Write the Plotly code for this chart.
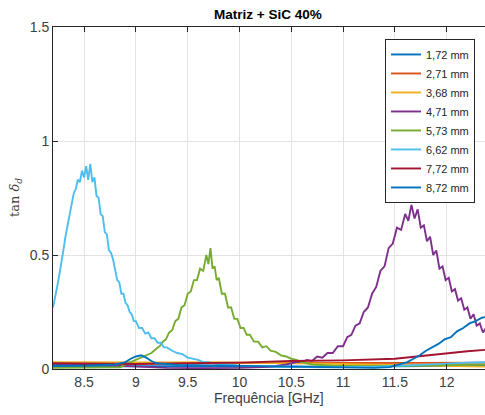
import plotly.graph_objects as go

names = ["1,72 mm", "2,71 mm", "3,68 mm", "4,71 mm", "5,73 mm", "6,62 mm", "7,72 mm", "8,72 mm"]
colors = ["#0072BD", "#D95319", "#EDB120", "#7E2F8E", "#77AC30", "#4DBEEE", "#A2142F", "#0072BD"]

f_172 = [8.2, 8.6, 9.0, 9.5, 10.0, 10.5, 11.0, 11.5, 12.0, 12.4]
v_172 = [0.012, 0.013, 0.014, 0.012, 0.011, 0.010, 0.010, 0.012, 0.014, 0.015]

f_271 = [8.2, 8.7, 9.2, 9.7, 10.2, 10.7, 11.2, 11.7, 12.2, 12.4]
v_271 = [0.025, 0.024, 0.026, 0.025, 0.026, 0.025, 0.026, 0.027, 0.028, 0.028]

f_368 = [8.2, 8.7, 9.2, 9.7, 10.2, 10.7, 11.2, 11.7, 12.2, 12.4]
v_368 = [0.030, 0.028, 0.029, 0.030, 0.028, 0.024, 0.020, 0.015, 0.011, 0.010]

f_471 = [8.2, 8.5, 8.8, 9.0, 9.3, 9.6, 10.0, 10.3, 10.45, 10.55, 10.6,
         10.65, 10.7, 10.75, 10.8, 10.85, 10.9, 10.95, 11.0, 11.04, 11.08, 11.12, 11.16,
         11.2, 11.24, 11.28, 11.32, 11.36, 11.4, 11.44, 11.48, 11.52, 11.56, 11.6, 11.63,
         11.66, 11.69, 11.72, 11.75, 11.78, 11.81, 11.84, 11.87, 11.9, 11.93, 11.96, 11.99,
         12.02, 12.05, 12.08, 12.11, 12.14, 12.17, 12.2, 12.23, 12.26, 12.29, 12.32, 12.35,
         12.38, 12.4]
v_471 = [0.02, 0.02, 0.015, 0.012, 0.005, 0.004, 0.005, 0.01, 0.02, 0.03, 0.03,
         0.04, 0.035, 0.055, 0.05, 0.07, 0.07, 0.10, 0.10, 0.14, 0.15, 0.19, 0.20,
         0.25, 0.27, 0.33, 0.36, 0.43, 0.45, 0.53, 0.55, 0.62, 0.61, 0.68, 0.65,
         0.72, 0.66, 0.70, 0.62, 0.63, 0.56, 0.58, 0.50, 0.52, 0.44, 0.45, 0.39,
         0.40, 0.34, 0.35, 0.30, 0.31, 0.26, 0.27, 0.22, 0.24, 0.19, 0.20, 0.16,
         0.18, 0.17]

f_573 = [8.2, 8.5, 8.85, 8.9, 8.95, 9.0, 9.05, 9.1, 9.15, 9.2, 9.23, 9.26, 9.29, 9.32,
         9.35, 9.38, 9.41, 9.44, 9.47, 9.5, 9.53, 9.56, 9.59, 9.62, 9.65, 9.68, 9.7,
         9.72, 9.74, 9.76, 9.78, 9.8, 9.83, 9.86, 9.89, 9.92, 9.95, 9.98, 10.01, 10.04,
         10.07, 10.1, 10.14, 10.18, 10.22, 10.26, 10.3, 10.35, 10.4, 10.45, 10.5, 10.55,
         10.6, 10.7, 10.9, 11.2, 11.6, 12.0, 12.4]
v_573 = [0.005, 0.005, 0.008, 0.02, 0.03, 0.04, 0.05, 0.06, 0.07, 0.09, 0.10, 0.12, 0.13, 0.16,
         0.17, 0.21, 0.22, 0.27, 0.28, 0.33, 0.34, 0.39, 0.39, 0.44, 0.43, 0.50, 0.46,
         0.53, 0.44, 0.45, 0.39, 0.40, 0.33, 0.33, 0.27, 0.27, 0.22, 0.22, 0.18, 0.18,
         0.15, 0.15, 0.12, 0.12, 0.095, 0.10, 0.08, 0.075, 0.06, 0.055, 0.045, 0.04,
         0.03, 0.02, 0.015, 0.012, 0.015, 0.018, 0.02]

f_662 = [8.2, 8.22, 8.24, 8.26, 8.28, 8.3, 8.32, 8.34, 8.36, 8.38, 8.4, 8.42, 8.44, 8.46,
         8.48, 8.5, 8.52, 8.54, 8.56, 8.58, 8.6, 8.62, 8.64, 8.66, 8.68, 8.7, 8.72, 8.74,
         8.76, 8.78, 8.8, 8.82, 8.84, 8.86, 8.88, 8.9, 8.92, 8.94, 8.96, 8.98, 9.0, 9.03,
         9.06, 9.09, 9.12, 9.15, 9.18, 9.21, 9.24, 9.27, 9.3, 9.35, 9.4, 9.45, 9.5, 9.55,
         9.6, 9.65, 9.7, 9.8, 9.9, 10.0, 10.2, 10.5, 10.8, 11.0, 11.3, 11.6, 11.9, 12.2, 12.4]
v_662 = [0.27, 0.31, 0.36, 0.41, 0.46, 0.52, 0.58, 0.63, 0.68, 0.72, 0.77, 0.79, 0.83, 0.82,
         0.87, 0.84, 0.89, 0.83, 0.90, 0.82, 0.84, 0.76, 0.75, 0.68, 0.67, 0.60, 0.59, 0.52,
         0.51, 0.48, 0.44, 0.39, 0.38, 0.33, 0.33, 0.29, 0.28, 0.25, 0.24, 0.21, 0.21, 0.18,
         0.18, 0.155, 0.16, 0.135, 0.135, 0.115, 0.115, 0.095, 0.095, 0.08, 0.07, 0.065, 0.05, 0.045,
         0.04, 0.03, 0.03, 0.02, 0.02, 0.015, 0.012, 0.01, 0.008, 0.008, 0.01, 0.015, 0.022, 0.028, 0.03]

f_772 = [8.2, 8.6, 9.0, 9.5, 10.0, 10.5, 11.0, 11.5, 11.8, 12.0, 12.2, 12.4]
v_772 = [0.025, 0.024, 0.022, 0.025, 0.028, 0.035, 0.038, 0.045, 0.06, 0.07, 0.078, 0.085]

f_872 = [8.2, 8.5, 8.8, 8.9, 8.95, 9.0, 9.05, 9.1, 9.15, 9.2, 9.4, 9.8, 10.2, 10.6, 11.0,
         11.3, 11.45, 11.55, 11.62, 11.68, 11.74, 11.8, 11.86, 11.92, 11.98, 12.04, 12.1,
         12.16, 12.22, 12.28, 12.34, 12.4]
v_872 = [0.015, 0.015, 0.02, 0.03, 0.045, 0.055, 0.06, 0.05, 0.035, 0.025, 0.018, 0.015, 0.012, 0.01, 0.006,
         0.005, 0.008, 0.02, 0.03, 0.045, 0.06, 0.08, 0.095, 0.11, 0.13, 0.14, 0.165,
         0.18, 0.20, 0.21, 0.225, 0.23]

series_f = [f_172, f_271, f_368, f_471, f_573, f_662, f_772, f_872]
series_v = [v_172, v_271, v_368, v_471, v_573, v_662, v_772, v_872]

x_ticks = [8.5, 9, 9.5, 10, 10.5, 11, 11.5, 12]
y_ticks = [0, 0.5, 1, 1.5]

fig = go.Figure()
for n, c, fx, vy in zip(names, colors, series_f, series_v):
    fig.add_trace(go.Scatter(x=fx, y=vy, mode="lines", name=n,
                             line=dict(color=c, width=1.9)))

axis_col = "#262626"
txt_col = "#404040"
fig.update_layout(
    width=485, height=415,
    margin=dict(l=53, r=0, t=27, b=46, autoexpand=False),
    paper_bgcolor="white", plot_bgcolor="white",
    font=dict(family="Liberation Sans, Arial, sans-serif", size=13, color=txt_col),
    showlegend=True,
    legend=dict(x=0.7685, y=0.965, xanchor="left", yanchor="top",
                bgcolor="white", bordercolor=axis_col, borderwidth=1,
                font=dict(size=11, color="#262626"), tracegroupgap=0,
                itemwidth=30),
    annotations=[
        dict(text="<b>Matriz + SiC 40%</b>", xref="paper", yref="paper", x=0.497, y=1.0,
             xanchor="center", yanchor="bottom", yshift=3, showarrow=False,
             font=dict(size=13.5, color="#000000")),
        dict(text="Frequência [GHz]", xref="paper", yref="paper", x=0.50, y=0.0,
             xanchor="center", yanchor="middle", yshift=-29, showarrow=False,
             font=dict(size=14, color=txt_col)),
        dict(text="tan <i>δ</i><sub><i>d</i></sub>", xref="paper", yref="paper", x=0.0, y=0.5,
             xanchor="center", yanchor="middle", xshift=-38, textangle=-90, showarrow=False,
             font=dict(family="DejaVu Serif, serif", size=13, color=txt_col)),
    ],
)
fig.update_xaxes(range=[8.2, 12.37], tickvals=x_ticks, ticktext=[str(t) for t in x_ticks],
                 showgrid=True, gridcolor="#e3e3e3", gridwidth=1, automargin=False,
                 showline=True, linecolor=axis_col, linewidth=1, mirror="ticks",
                 ticks="inside", ticklen=5, tickcolor=axis_col,
                 tickfont=dict(size=14, color=txt_col), zeroline=False)
fig.update_yaxes(range=[0, 1.5], tickvals=y_ticks, ticktext=["0", "0.5", "1", "1.5"],
                 showgrid=True, gridcolor="#e3e3e3", gridwidth=1, automargin=False,
                 showline=True, linecolor=axis_col, linewidth=1, mirror=False,
                 ticks="inside", ticklen=5, tickcolor=axis_col,
                 tickfont=dict(size=14, color=txt_col), zeroline=False)

fig.write_html("out.html", config={"displayModeBar": False},
               post_script="document.body.style.margin='0';document.body.style.overflow='hidden';")
